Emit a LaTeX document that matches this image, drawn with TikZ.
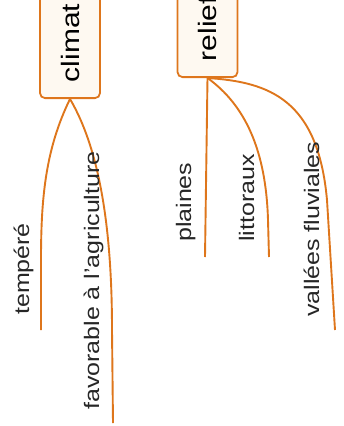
\documentclass[tikz,border=0pt]{standalone}
\usepackage{fontspec}
\setmainfont{Liberation Sans}
\usepackage{tikz}
\usetikzlibrary{positioning}
\usepackage{xcolor}
\definecolor{branch}{RGB}{222,118,28}
\definecolor{boxfill}{RGB}{254,249,241}
\newcommand{\squeezed}[1]{\scalebox{1}[0.84]{#1}}

\begin{document}
\begin{tikzpicture}[x=1pt, y=-1pt,
    topic/.style={draw=branch, line width=1.8pt, fill=boxfill, rounded corners=5pt, rotate=90, anchor=west,
        minimum height=60pt, inner xsep=16pt, font=\fontsize{30}{36}\selectfont},
    leaf/.style={rotate=90, anchor=base west, inner sep=0pt, font=\fontsize{25}{30}\selectfont, text=black!85},
    twig/.style={draw=branch, line width=1.9pt}]
    \useasboundingbox (0,0) rectangle (344,426);
    \clip (0,0) rectangle (344,426);
    % the two topics
    \node[topic] (climat) at (70,99) {\squeezed{climat}};
    \node[topic] (relief) at (207.5,78) {\squeezed{relief}};
    % ends of the branches
    \coordinate (tempere-end) at (41,330);
    \coordinate (favorable-end) at (113,423);
    \coordinate (plaines-end) at (205,257);
    \coordinate (littoraux-end) at (269,257);
    \coordinate (vallees-end) at (335,330);
    % branches
    \draw[twig] (climat.west) .. controls (45,150) and (41,200) .. (41,260) -- (tempere-end);
    \draw[twig] (climat.west) .. controls (100,150) and (112,230) .. (112,330) -- (favorable-end);
    \draw[twig] (relief.west) -- (plaines-end);
    \draw[twig] (relief.west) .. controls (245,105) and (266,150) .. (268,220) -- (littoraux-end);
    \draw[twig] (relief.west) .. controls (270,82) and (318,100) .. (327,200) -- (vallees-end);
    % labels on the branches
    \node[leaf] (tempere) at (29,315) {\squeezed{tempéré}};
    \node[leaf] (favorable) at (99,410) {\squeezed{favorable à l'agriculture}};
    \node[leaf] (plaines) at (191,242) {\squeezed{plaines}};
    \node[leaf] (littoraux) at (254,242) {\squeezed{littoraux}};
    \node[leaf] (vallees) at (319,317) {\squeezed{vallées fluviales}};
\end{tikzpicture}
\end{document}
